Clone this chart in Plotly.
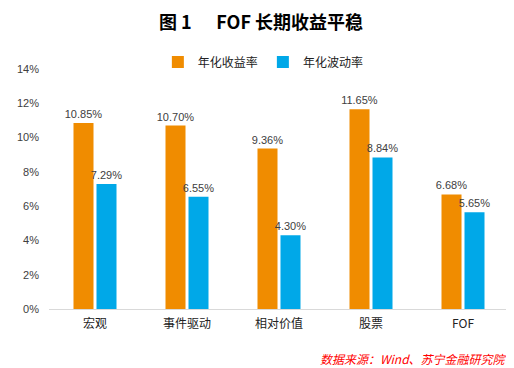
import plotly.graph_objects as go

categories = ["宏观", "事件驱动", "相对价值", "股票", "FOF"]
annual_return = [10.85, 10.70, 9.36, 11.65, 6.68]
annual_vol = [7.29, 6.55, 4.30, 8.84, 5.65]
y_ticks = [0, 2, 4, 6, 8, 10, 12, 14]
y_tick_labels = [f"{v}%" for v in y_ticks]

font_cjk = "Noto Sans CJK SC, Microsoft YaHei, sans-serif"

# page body has an 8px margin; the figure is sized/offset to compensate
W, H = 506, 360
plot_l, plot_r, plot_t, plot_b = 41, 501, 61, 301
plot_h = plot_b - plot_t
plot_w = plot_r - plot_l

fig = go.Figure()
fig.add_trace(go.Bar(
    x=categories, y=annual_return, name="年化收益率",
    marker_color="#F08C00",
    text=[f"{v:.2f}%" for v in annual_return], textposition="outside",
    constraintext="none",
    textfont=dict(size=11, color="#404040", family="Liberation Sans, Arial"), cliponaxis=False,
))
fig.add_trace(go.Bar(
    x=categories, y=annual_vol, name="年化波动率",
    marker_color="#00A8E8",
    text=[f"{v:.2f}%" for v in annual_vol], textposition="outside",
    constraintext="none",
    textfont=dict(size=11, color="#404040", family="Liberation Sans, Arial"), cliponaxis=False,
))

fig.update_layout(
    template="none",
    width=W, height=H,
    margin=dict(l=plot_l, r=W - plot_r, t=plot_t, b=H - plot_b, autoexpand=False),
    paper_bgcolor="white", plot_bgcolor="white",
    barmode="group", bargap=0.5, bargroupgap=0.13,
    font=dict(family=font_cjk, color="#404040"),
    title=dict(text="<b>图 1&nbsp;&nbsp;&nbsp;&nbsp;&nbsp;&nbsp;FOF 长期收益平稳</b>", x=0.5, xanchor="center",
               y=1 - 15 / H, yanchor="middle",
               font=dict(size=18, color="black", family=font_cjk)),
    legend=dict(orientation="h", x=0.466, xanchor="center", y=1 + 7 / plot_h, yanchor="middle",
                font=dict(size=12, color="#222222"), itemwidth=30,
                traceorder="normal", bgcolor="rgba(0,0,0,0)"),
    showlegend=True,
)
fig.update_yaxes(range=[0, 14], tickvals=y_ticks, ticktext=y_tick_labels,
                 showgrid=False, zeroline=False, showline=False, automargin=False,
                 tickfont=dict(size=11, color="#404040", family="Liberation Sans, Arial"),
                 ticks="", ticklen=0, ticklabelstandoff=9)
fig.update_xaxes(showline=True, linecolor="#D9D9D9", linewidth=1, ticks="", automargin=False,
                 tickfont=dict(size=12, color="#222222"), showgrid=False, ticklabelstandoff=4)

fig.add_annotation(text="<i>数据来源：Wind、苏宁金融研究院</i>", xref="paper", yref="paper",
                   x=1.0, xanchor="right", y=-49 / plot_h, yanchor="middle", showarrow=False,
                   font=dict(size=12, color="#FF0000", family=font_cjk))

fig.write_html("out.html")
